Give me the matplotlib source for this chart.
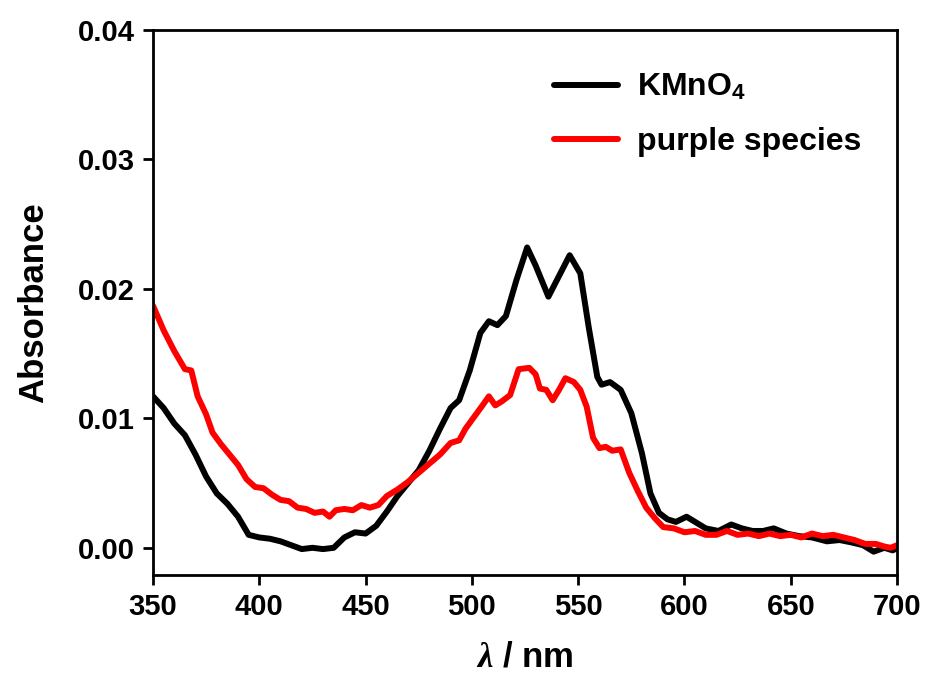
import numpy as np
import matplotlib.pyplot as plt

# UV-vis spectra
kmno4_nm = [350, 355, 360, 365, 370, 375, 380, 385, 390, 395, 400, 405, 410, 415,
            420, 425, 430, 435, 440, 445, 450, 455, 460, 465, 470, 475, 480, 485,
            490, 494, 499, 504, 508, 512, 516, 521, 526, 530, 536, 541, 546, 551,
            555, 559, 561, 565, 570, 575, 580, 584, 588, 592, 596, 601, 606, 610,
            616, 622, 627, 632, 637, 642, 648, 654, 660, 667, 673, 679, 684, 689,
            694, 698, 700]
kmno4_abs = [0.0117, 0.0108, 0.0096, 0.0087, 0.0072, 0.0055, 0.0042, 0.0034, 0.0024,
             0.0010, 0.0008, 0.0007, 0.0005, 0.0002, -0.0001, 0.0000, -0.0001, 0.0000,
             0.0008, 0.0012, 0.0011, 0.0017, 0.0028, 0.0040, 0.0050, 0.0060, 0.0075,
             0.0092, 0.0108, 0.0114, 0.0137, 0.0166, 0.0175, 0.0172, 0.0179, 0.0207,
             0.0232, 0.0218, 0.0194, 0.0210, 0.0226, 0.0212, 0.0170, 0.0132, 0.0126,
             0.0128, 0.0122, 0.0104, 0.0073, 0.0042, 0.0027, 0.0022, 0.0020, 0.0024,
             0.0019, 0.0015, 0.0013, 0.0018, 0.0015, 0.0013, 0.0013, 0.0015, 0.0011,
             0.0009, 0.0008, 0.0005, 0.0006, 0.0004, 0.0002, -0.0003, 0.0000, -0.0002,
             0.0000]

purple_nm = [350, 355, 360, 365, 368, 371, 375, 378, 382, 386, 390, 394, 398, 402,
             406, 410, 414, 418, 422, 426, 430, 433, 436, 440, 444, 448, 452, 456,
             460, 465, 470, 475, 480, 485, 490, 494, 497, 501, 505, 508, 511, 514,
             518, 522, 527, 530, 532, 535, 538, 541, 544, 548, 551, 554, 557, 560,
             563, 566, 570, 574, 578, 582, 586, 590, 595, 600, 605, 610, 615, 620,
             625, 630, 635, 640, 645, 650, 655, 660, 665, 670, 675, 680, 685, 690,
             694, 697, 700]
purple_abs = [0.0187, 0.0168, 0.0152, 0.0138, 0.0137, 0.0117, 0.0103, 0.0089, 0.0080,
              0.0072, 0.0064, 0.0053, 0.0047, 0.0046, 0.0041, 0.0037, 0.0036, 0.0031,
              0.0030, 0.0027, 0.0028, 0.0024, 0.0029, 0.0030, 0.0029, 0.0033, 0.0031,
              0.0033, 0.0040, 0.0045, 0.0051, 0.0058, 0.0065, 0.0072, 0.0081, 0.0083,
              0.0092, 0.0101, 0.0110, 0.0117, 0.0110, 0.0113, 0.0118, 0.0138, 0.0139,
              0.0134, 0.0123, 0.0122, 0.0114, 0.0122, 0.0131, 0.0128, 0.0122, 0.0109,
              0.0085, 0.0077, 0.0078, 0.0075, 0.0076, 0.0058, 0.0044, 0.0031, 0.0023,
              0.0016, 0.0015, 0.0012, 0.0013, 0.0010, 0.0010, 0.0013, 0.0010, 0.0011,
              0.0009, 0.0011, 0.0009, 0.0010, 0.0008, 0.0011, 0.0009, 0.0010, 0.0008,
              0.0006, 0.0003, 0.0003, 0.0001, 0.0000, 0.0002]

x_ticks = [350, 400, 450, 500, 550, 600, 650, 700]
y_ticks = [0.00, 0.01, 0.02, 0.03, 0.04]

plt.rcParams['font.family'] = ['Liberation Sans', 'DejaVu Sans']
plt.rcParams['font.weight'] = 'bold'
plt.rcParams['mathtext.fontset'] = 'custom'
plt.rcParams['mathtext.rm'] = 'Liberation Sans:bold'
plt.rcParams['mathtext.it'] = 'Liberation Serif:italic'

fig = plt.figure(figsize=(9.29, 6.77), dpi=100)
ax = fig.add_axes([0.1647, 0.1507, 0.8009, 0.805])

line_kw = dict(lw=4.3, solid_joinstyle='round', solid_capstyle='round')
ax.plot(kmno4_nm, kmno4_abs, color='black', label=r'KMnO$_\mathrm{4}$', **line_kw)
ax.plot(purple_nm, purple_abs, color='red', label='purple species', **line_kw)

ax.set_xlim(350, 700)
ax.set_ylim(-0.0021, 0.04)
ax.set_xticks(x_ticks)
ax.set_yticks(y_ticks)
ax.set_yticklabels([f'{v:.2f}' for v in y_ticks])

for s in ax.spines.values():
    s.set_linewidth(2)
ax.tick_params(direction='out', length=7, width=2, labelsize=21, pad=6)
for lab in ax.get_xticklabels() + ax.get_yticklabels():
    lab.set_fontweight('bold')

ax.set_xlabel(r'$\mathit{\lambda}$ / nm', fontsize=25, fontweight='bold', labelpad=14)
ax.set_ylabel('Absorbance', fontsize=25, fontweight='bold', labelpad=20)

leg = ax.legend(loc='upper left', bbox_to_anchor=(0.50, 0.975), frameon=False,
                prop={'size': 23, 'weight': 'bold'}, handlelength=2.0,
                labelspacing=0.75, handletextpad=0.6)

fig.savefig('out.png', dpi=100)
